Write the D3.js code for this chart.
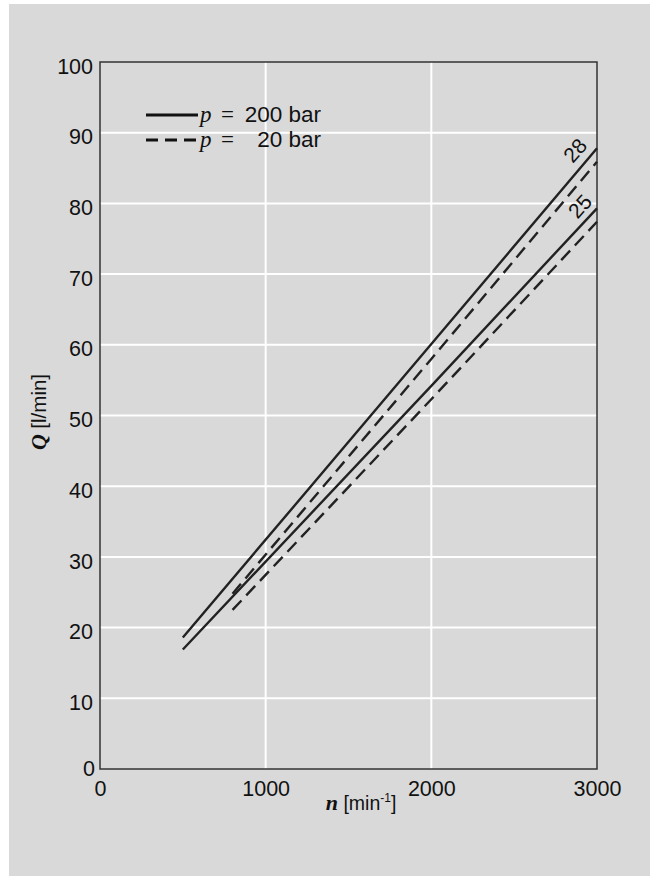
<!DOCTYPE html>
<html><head><meta charset="utf-8">
<script src="https://cdn.jsdelivr.net/npm/d3@7"></script>
<style>body{margin:0;background:#fff;}svg{display:block;}</style>
</head><body>
<script>
// Data
const xTicks = [0, 1000, 2000, 3000];
const yTicks = [0, 10, 20, 30, 40, 50, 60, 70, 80, 90, 100];
const speedSolid = [500, 2000, 3000];      // n [min^-1], p = 200 bar
const speedDashed = [800, 2000, 3000];     // n [min^-1], p = 20 bar
const q28Solid = [18.6, 60.1, 87.8];
const q25Solid = [16.9, 54.2, 79.3];
const q28Dashed = [24.8, 58.0, 85.9];
const q25Dashed = [22.5, 52.3, 77.4];
const sizeLabels = ["28", "25"];
const legendValues = ["200 bar", "20 bar"];

const W = 650, H = 876;
const svg = d3.select("body").append("svg").attr("width", W).attr("height", H);
svg.append("rect").attr("x", 9).attr("y", 4).attr("width", W - 9).attr("height", H - 4).attr("fill", "#d9d9d9");

const x = d3.scaleLinear().domain([0, 3000]).range([100, 597]);
const y = d3.scaleLinear().domain([0, 100]).range([769, 62]);
const FONT = "'Liberation Sans', Arial, Helvetica, sans-serif";
const SERIF = "'Liberation Serif', 'Times New Roman', serif";

// grid
const g = svg.append("g");
g.selectAll(".gx").data(xTicks.slice(1, -1)).enter().append("line")
  .attr("x1", d => x(d)).attr("x2", d => x(d)).attr("y1", y(0)).attr("y2", y(100))
  .attr("stroke", "#fff").attr("stroke-width", 2);
g.selectAll(".gy").data(yTicks.slice(1, -1)).enter().append("line")
  .attr("x1", x(0)).attr("x2", x(3000)).attr("y1", d => y(d)).attr("y2", d => y(d))
  .attr("stroke", "#fff").attr("stroke-width", 2);

// frame
svg.append("rect").attr("x", x(0)).attr("y", y(100)).attr("width", x(3000) - x(0)).attr("height", y(0) - y(100))
  .attr("fill", "none").attr("stroke", "#333").attr("stroke-width", 1.5);

// axes labels via d3 axis (no lines)
const xAxis = svg.append("g").attr("transform", `translate(0,${y(0)})`)
  .call(d3.axisBottom(x).tickValues(xTicks).tickSize(0).tickPadding(10).tickFormat(d3.format("d")));
xAxis.select(".domain").remove();
xAxis.selectAll("text").attr("font-family", FONT).attr("font-size", 21.5).attr("fill", "#111").attr("dy", "0.8em");

const yAxis = svg.append("g").attr("transform", `translate(${x(0)},0)`)
  .call(d3.axisLeft(y).tickValues(yTicks).tickSize(0).tickPadding(7).tickFormat(d3.format("d")));
yAxis.select(".domain").remove();
yAxis.selectAll("text").attr("font-family", FONT).attr("font-size", 21.5).attr("fill", "#111").attr("dy", "0.52em");
yAxis.selectAll(".tick").filter(d => d === 0).select("text").attr("dy", "0.3em").attr("x", -5);

// lines
const lineGen = d3.line().x(d => x(d[0])).y(d => y(d[1]));
const series = [
  { n: speedSolid, q: q28Solid, dash: null },
  { n: speedSolid, q: q25Solid, dash: null },
  { n: speedDashed, q: q28Dashed, dash: "13,7" },
  { n: speedDashed, q: q25Dashed, dash: "13,7" }
];
svg.selectAll(".ser").data(series).enter().append("path")
  .attr("d", s => lineGen(s.n.map((v, i) => [v, s.q[i]])))
  .attr("fill", "none").attr("stroke", "#222").attr("stroke-width", 2.4)
  .attr("stroke-dasharray", s => s.dash);

// size labels
const labPos = [[2867, 87.5], [2897, 79.6]];
svg.selectAll(".sl").data(sizeLabels).enter().append("text")
  .attr("transform", (d, i) => `translate(${x(labPos[i][0])},${y(labPos[i][1])}) rotate(-48)`)
  .attr("text-anchor", "middle").attr("dy", "0.35em")
  .attr("font-family", FONT).attr("font-size", 21).attr("fill", "#111").text(d => d);

// legend
const lg = svg.append("g");
[null, "12,7"].forEach((dash, i) => {
  const yy = 115 + i * 25;
  lg.append("line").attr("x1", 146).attr("x2", i ? 196 : 198).attr("y1", yy).attr("y2", yy)
    .attr("stroke", "#111").attr("stroke-width", 2.8).attr("stroke-dasharray", dash);
  lg.append("text").attr("x", 200).attr("y", yy + 6.5).attr("font-size", 23)
    .attr("font-family", SERIF).attr("font-style", "italic").attr("fill", "#111").text("p");
  lg.append("text").attr("x", 221).attr("y", yy + 6.5).attr("font-size", 23)
    .attr("font-family", SERIF).attr("fill", "#111").text("=");
  lg.append("text").attr("x", 321).attr("y", yy + 6.5).attr("font-size", 22.5).attr("text-anchor", "end")
    .attr("font-family", FONT).attr("fill", "#111").text(legendValues[i]);
});

// axis titles
const xt = svg.append("text").attr("x", 361).attr("y", 810).attr("text-anchor", "middle")
  .attr("font-size", 19.5).attr("fill", "#111");
xt.append("tspan").attr("font-family", SERIF).attr("font-style", "italic").attr("font-weight", "bold").attr("font-size", 22).text("n ");
xt.append("tspan").attr("font-family", FONT).text("[min");
xt.append("tspan").attr("font-family", FONT).attr("font-size", 12).attr("dy", -8).text("-1");
xt.append("tspan").attr("font-family", FONT).attr("dy", 8).text("]");

const yt = svg.append("text").attr("transform", "translate(46,412) rotate(-90)").attr("text-anchor", "middle")
  .attr("font-size", 20.5).attr("fill", "#111");
yt.append("tspan").attr("font-family", SERIF).attr("font-style", "italic").attr("font-weight", "bold").attr("font-size", 22).text("Q ");
yt.append("tspan").attr("font-family", FONT).text("[l/min]");
</script>
</body></html>
